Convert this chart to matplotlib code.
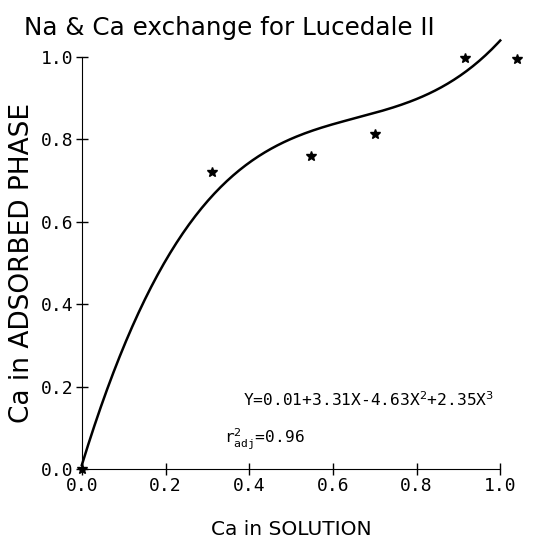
import numpy as np
import matplotlib
matplotlib.use('Agg')
import matplotlib.pyplot as plt

# observed points
ca_solution = [0.0, 0.31, 0.547, 0.70, 0.916, 1.04]
ca_adsorbed = [0.0, 0.721, 0.760, 0.813, 0.998, 0.995]

# fitted cubic, coefficients as printed on the chart (highest power first)
fit_coef = [2.35, -4.63, 3.31, 0.01]

ticks = [0.0, 0.2, 0.4, 0.6, 0.8, 1.0]
tick_labels = ['0.0', '0.2', '0.4', '0.6', '0.8', '1.0']

fig = plt.figure(figsize=(5.35, 5.48), dpi=100)
ax = fig.add_axes([0.153, 0.144, 0.782, 0.752])

xs = np.linspace(0, 1, 200)
ax.plot(xs, np.polyval(fit_coef, xs), color='black', lw=1.8, clip_on=False)
ax.plot(ca_solution, ca_adsorbed, '*', color='black', ms=7, clip_on=False)

ax.set_xlim(0, 1)
ax.set_ylim(0, 1)
ax.spines['top'].set_visible(False)
ax.spines['right'].set_visible(False)
ax.set_xticks(ticks)
ax.set_xticklabels(tick_labels)
ax.set_yticks(ticks)
ax.set_yticklabels(tick_labels)
ax.tick_params(direction='inout', length=8, width=1, labelsize=13, pad=2)
for lab in ax.get_xticklabels() + ax.get_yticklabels():
    lab.set_family('DejaVu Sans Mono')

ax.set_xlabel('Ca in SOLUTION', fontsize=14.5, labelpad=18)
ax.set_ylabel('Ca in ADSORBED PHASE', fontsize=19, labelpad=4)
fig.text(0.428, 0.949, 'Na & Ca exchange for Lucedale II', fontsize=17.7,
         ha='center', va='center')

ax.text(0.386, 0.153, r'Y=0.01+3.31X-4.63X$^2$+2.35X$^3$', fontsize=11.7,
        family='DejaVu Sans Mono')
ax.text(0.339, 0.063, r'r$^2_{\mathtt{adj}}$=0.96', fontsize=11.7,
        family='DejaVu Sans Mono')

plt.savefig('out.png', dpi=100)
